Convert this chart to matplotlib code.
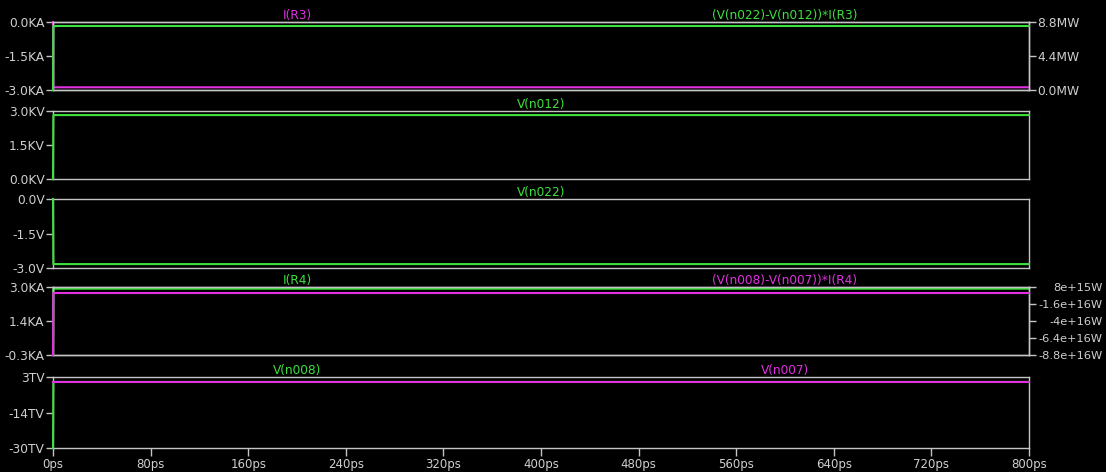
import matplotlib
matplotlib.use("Agg")
import matplotlib.pyplot as plt

# Datos (tiempo en ps)
t_ps = [0, 0.3, 800]
i_r3 = [0, -2.88, -2.88]          # KA
p_r3 = [0, 8.28, 8.28]            # MW
v_n012 = [0, 2.82, 2.82]          # KV
v_n022 = [0, -2.83, -2.83]        # V
i_r4 = [0, 2.92, 2.92]            # KA
p_r4 = [-8.8e16, -5e14, -5e14]    # W
v_n008 = [-30, 0.7, 0.7]          # TV
v_n007 = [0.7, 0.7, 0.7]          # TV

x_ticks = [0, 80, 160, 240, 320, 400, 480, 560, 640, 720, 800]
x_labels = [f"{v}ps" for v in x_ticks]

GREEN = "#3ee03e"
MAGENTA = "#e030e0"
GRID = "#c4c4c4"
TXT = "#cfcfcf"
BG = "black"
FS = 8.8      # etiquetas de los ejes
FS_T = 8.7    # nombres de las trazas

W, H = 1106, 472
LEFT, RIGHT = 53, 1029
# (top, bottom) de cada panel en píxeles
panes = [(22, 90), (111, 179), (199, 268), (287, 355), (377, 448)]

fig = plt.figure(figsize=(W / 100, H / 100), dpi=100, facecolor=BG)


def make_ax(top, bottom):
    ax = fig.add_axes([LEFT / W, 1 - bottom / H, (RIGHT - LEFT) / W, (bottom - top) / H])
    ax.set_facecolor(BG)
    for s in ax.spines.values():
        s.set_color(GRID)
        s.set_linewidth(1.0)
    ax.set_xlim(0, 800)
    ax.tick_params(axis="y", colors=GRID, labelcolor=TXT, labelsize=FS, length=5, width=1, pad=1)
    ax.tick_params(axis="x", bottom=False, labelbottom=False)
    return ax


def style_twin(ax):
    for s in ax.spines.values():
        s.set_color(GRID)
        s.set_linewidth(1.0)
    ax.tick_params(axis="y", colors=GRID, labelcolor=TXT, labelsize=FS, length=5, width=1, pad=1)


def trace(ax, y, color):
    ax.plot(t_ps, y, color=color, lw=1.5, zorder=3, clip_on=False)


def title(ax, x, text, color):
    ax.text(x, 1.0, text, transform=ax.transAxes, ha="center", va="bottom",
            color=color, fontsize=FS_T)


# Panel 1
ax1 = make_ax(*panes[0])
trace(ax1, i_r3, MAGENTA)
ax1.set_ylim(-3.0, 0.0)
ax1.set_yticks([0.0, -1.5, -3.0], ["0.0KA", "-1.5KA", "-3.0KA"])
ax1r = ax1.twinx()
trace(ax1r, p_r3, GREEN)
ax1r.set_ylim(0, 8.8)
ax1r.set_yticks([8.8, 4.4, 0.0], ["8.8MW", "4.4MW", "0.0MW"])
style_twin(ax1r)
title(ax1, 0.25, "I(R3)", MAGENTA)
title(ax1, 0.75, "(V(n022)-V(n012))*I(R3)", GREEN)

# Panel 2
ax2 = make_ax(*panes[1])
trace(ax2, v_n012, GREEN)
ax2.set_ylim(0, 3.0)
ax2.set_yticks([3.0, 1.5, 0.0], ["3.0KV", "1.5KV", "0.0KV"])
title(ax2, 0.5, "V(n012)", GREEN)

# Panel 3
ax3 = make_ax(*panes[2])
trace(ax3, v_n022, GREEN)
ax3.set_ylim(-3.0, 0.0)
ax3.set_yticks([0.0, -1.5, -3.0], ["0.0V", "-1.5V", "-3.0V"])
title(ax3, 0.5, "V(n022)", GREEN)

# Panel 4
ax4 = make_ax(*panes[3])
trace(ax4, i_r4, GREEN)
ax4.set_ylim(-0.3, 3.0)
ax4.set_yticks([3.0, 1.35, -0.3], ["3.0KA", "1.4KA", "-0.3KA"])
ax4r = ax4.twinx()
trace(ax4r, p_r4, MAGENTA)
ax4r.set_ylim(-8.8e16, 8e15)
ax4r.set_yticks([8e15, -1.6e16, -4e16, -6.4e16, -8.8e16],
                ["8e+15W", "-1.6e+16W", "-4e+16W", "-6.4e+16W", "-8.8e+16W"])
style_twin(ax4r)
ax4r.tick_params(axis="y", pad=48, labelsize=8.2)
for lab in ax4r.get_yticklabels():
    lab.set_horizontalalignment("right")
title(ax4, 0.25, "I(R4)", GREEN)
title(ax4, 0.75, "(V(n008)-V(n007))*I(R4)", MAGENTA)

# Panel 5
ax5 = make_ax(*panes[4])
trace(ax5, v_n008, GREEN)
trace(ax5, v_n007, MAGENTA)
ax5.set_ylim(-30, 3)
ax5.set_yticks([3, -13.5, -30], ["3TV", "-14TV", "-30TV"])
ax5.tick_params(axis="x", bottom=True, labelbottom=True, colors=GRID, labelcolor=TXT,
                labelsize=8.5, length=6, width=1, pad=1)
ax5.set_xticks(x_ticks, x_labels)
title(ax5, 0.25, "V(n008)", GREEN)
title(ax5, 0.75, "V(n007)", MAGENTA)

fig.savefig("out.png", dpi=100, facecolor=BG)
